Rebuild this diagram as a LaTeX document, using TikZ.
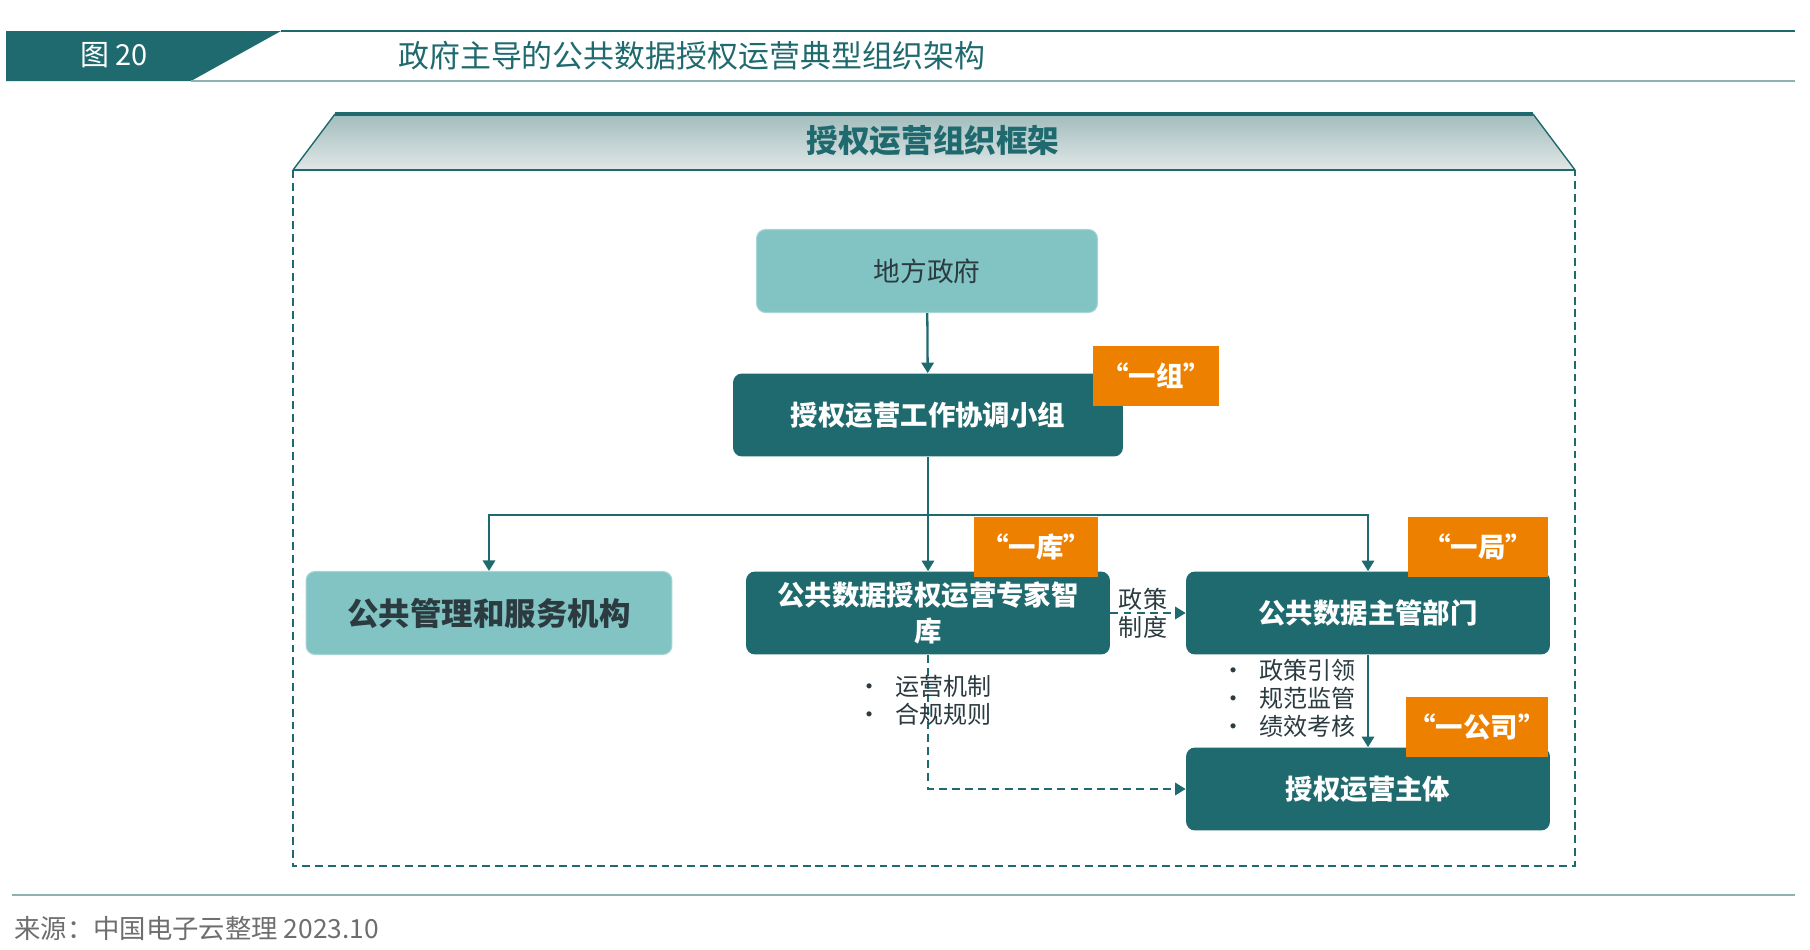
\documentclass[tikz,border=0pt]{standalone}
\usepackage{fontspec}
\setmainfont{Noto Sans CJK SC}
\usetikzlibrary{arrows.meta,positioning,calc}

\definecolor{tealdark}{HTML}{1F6A6E}
\definecolor{teallight}{HTML}{82C3C4}
\definecolor{tagorange}{HTML}{EE8000}
\definecolor{inkdark}{HTML}{2B3B40}
\definecolor{rulegrey}{HTML}{8DB2B3}
\definecolor{srcgrey}{HTML}{6E6E6E}
\definecolor{bannertop}{HTML}{A2BCBD}
\definecolor{bannerbot}{HTML}{E1E7E7}

\begin{document}
\begin{tikzpicture}[x=0.02cm, y=-0.02cm,
    darkbox/.style={rectangle, rounded corners=0.18cm, fill=tealdark, text=white, inner sep=0pt, minimum width=7.28cm, minimum height=1.66cm, align=center, font=\bfseries\fontsize{15.6}{20}\selectfont},
    lightbox/.style={rectangle, rounded corners=0.18cm, fill=teallight, draw=teallight!70!white, line width=0.6pt, text=inkdark, inner sep=0pt, minimum width=7.28cm, minimum height=1.66cm, align=center, font=\fontsize{15.2}{19}\selectfont},
    tag/.style={rectangle, fill=tagorange, text=white, inner sep=0pt, minimum width=2.52cm, minimum height=1.2cm, font=\bfseries\fontsize{15.6}{19}\selectfont},
    note/.style={text=inkdark, inner sep=0pt, align=left, font=\fontsize{13.7}{15.9}\selectfont},
    conn/.style={-{Triangle[width=7pt, length=6pt]}, tealdark, line width=1.3pt},
    dconn/.style={conn, dash pattern=on 4.5pt off 3pt}
]
\useasboundingbox (0,0) rectangle (1810,950);

% Header band
\fill[tealdark] (6,31) -- (281,31) -- (191,81) -- (6,81) -- cycle;
\draw[tealdark, line width=1.4pt] (281,31) -- (1795,31);
\draw[rulegrey, line width=0.8pt] (191,81) -- (1795,81);
\node at (114,55) [text=white, font=\fontsize{16.5}{20}\selectfont] (fignum) {图 20};
\node at (692,56) [text=tealdark, font=\fontsize{17.6}{21}\selectfont] (figtitle) {政府主导的公共数据授权运营典型组织架构};

% Frame banner
\shade[top color=bannertop, bottom color=bannerbot] (335,114) -- (1533,114) -- (1575,170) -- (293,170) -- cycle;
\draw[tealdark, line width=1.8pt] (335,114) -- (1533,114);
\draw[tealdark, line width=0.8pt] (335,114) -- (293,170);
\draw[tealdark, line width=0.8pt] (1533,114) -- (1575,170);
\draw[tealdark, line width=1.4pt] (293,170) -- (1575,170);
\node at (933,141) [text=tealdark, font=\bfseries\fontsize{18}{22}\selectfont] (frametitle) {授权运营组织框架};

% Dashed frame
\draw[tealdark, line width=1.1pt, dash pattern=on 4.5pt off 2.8pt] (293,170) -- (293,866) -- (1575,866) -- (1575,170);

% Boxes
\node at (927,271) [lightbox, minimum width=6.82cm] (gov) {地方政府};
\node at (928,415) [darkbox, minimum width=7.8cm] (group) {授权运营工作协调小组};
\node at (489,613) [lightbox, minimum width=7.32cm, font=\bfseries\fontsize{17.9}{21}\selectfont] (serv) {公共管理和服务机构};
\node at (928,613) [darkbox] (think) {公共数据授权运营专家智\\库};
\node at (1368,613) [darkbox] (dept) {公共数据主管部门};
\node at (1368,789) [darkbox] (body) {授权运营主体};

% Tags
\node at (1156,376) [tag] (taggroup) {“一组”};
\node at (1036,547) [tag, minimum width=2.48cm] (tagthink) {“一库”};
\node at (1478,547) [tag, minimum width=2.82cm] (tagdept) {“一局”};
\node at (1477,727) [tag, minimum width=2.84cm] (tagbody) {“一公司”};

% Connectors
\coordinate (hub) at (928,515);
\draw[conn] (gov) -- (group);
\draw[conn] (group) -- (think);
\draw[conn] (hub) -| (serv);
\draw[conn] (hub) -| (dept);
\draw[dconn] (think) -- (dept);
\draw[dconn] (think.south) |- (body);
\draw[conn] (dept) -- (body);

% Labels
\node at (1143,613) [note, align=center] (policy) {政策\\制度};
\node at (857,700) [note, anchor=west] (thinknote) {•\hspace{0.28cm}运营机制\\•\hspace{0.28cm}合规规则};
\node at (1221,698) [note, anchor=west] (deptnote) {•\hspace{0.28cm}政策引领\\•\hspace{0.28cm}规范监管\\•\hspace{0.28cm}绩效考核};

% Footer
\draw[rulegrey, line width=0.8pt] (12,895) -- (1795,895);
\node at (14,929) [anchor=west, inner sep=0pt, text=srcgrey, font=\fontsize{15}{18}\selectfont] (source) {来源：中国电子云整理 2023.10};

\end{tikzpicture}
\end{document}
